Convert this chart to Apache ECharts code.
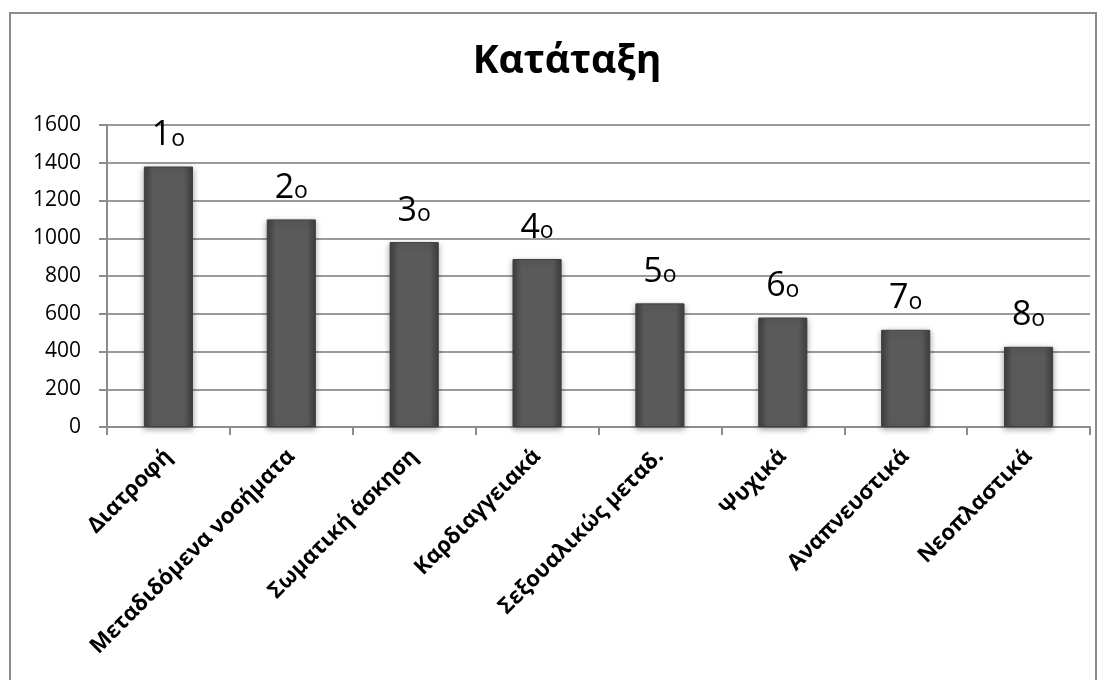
<!DOCTYPE html>
<html>
<head>
<meta charset="utf-8">
<title>Κατάταξη</title>
<script src="https://cdn.jsdelivr.net/npm/echarts@6/dist/echarts.min.js"></script>
<style>
  html, body { margin: 0; padding: 0; background: #fff; }
  #chart { width: 1106px; height: 680px; }
</style>
</head>
<body>
<div id="chart"></div>
<script>
// Ranking of health topics
const categories = ['Διατροφή', 'Μεταδιδόμενα νοσήματα', 'Σωματική άσκηση', 'Καρδιαγγειακά',
  'Σεξουαλικώς μεταδ.', 'Ψυχικά', 'Αναπνευστικά', 'Νεοπλαστικά'];
const values = [1380, 1100, 980, 890, 655, 580, 515, 425];
const ranks = ['1', '2', '3', '4', '5', '6', '7', '8'];
const yTicks = [0, 200, 400, 600, 800, 1000, 1200, 1400, 1600];

const chart = echarts.init(document.getElementById('chart'), null, { renderer: 'canvas' });

const barFill = new echarts.graphic.LinearGradient(0, 0, 1, 0, [
  { offset: 0, color: '#3e3e3e' },
  { offset: 0.18, color: '#5a5a5a' },
  { offset: 0.82, color: '#5a5a5a' },
  { offset: 1, color: '#3e3e3e' }
]);

chart.setOption({
  backgroundColor: '#ffffff',
  animation: false,
  graphic: [{
    type: 'rect',
    shape: { x: 10, y: 13, width: 1086, height: 700 },
    style: { fill: 'none', stroke: '#8c8c8c', lineWidth: 2 },
    silent: true
  }],
  title: {
    text: 'Κατάταξη',
    left: 562,
    top: 37,
    textAlign: 'center',
    textStyle: { fontFamily: 'Open Sans', fontWeight: 'bold', fontSize: 39, color: '#000' }
  },
  grid: { left: 107, right: 16, top: 125, bottom: 253, containLabel: false },
  xAxis: {
    type: 'category',
    data: categories,
    axisLine: { lineStyle: { color: '#8c8c8c', width: 2 } },
    axisTick: { show: true, length: 8, lineStyle: { color: '#8c8c8c', width: 2 } },
    axisLabel: {
      rotate: 45,
      margin: 26,
      interval: 0,
      fontFamily: 'Open Sans',
      fontWeight: 'bold',
      fontSize: 22,
      color: '#000'
    }
  },
  yAxis: {
    type: 'value',
    min: yTicks[0],
    max: yTicks[yTicks.length - 1],
    interval: yTicks[1] - yTicks[0],
    axisLine: { show: true, lineStyle: { color: '#8c8c8c', width: 2 } },
    axisTick: { show: true, inside: false, length: 8, lineStyle: { color: '#8c8c8c', width: 2 } },
    splitLine: { show: true, lineStyle: { color: '#9a9a9a', width: 2 } },
    axisLabel: {
      margin: 26,
      fontFamily: 'Open Sans',
      fontSize: 21,
      color: '#000',
      formatter: (v) => String(v)
    }
  },
  series: [{
    type: 'bar',
    data: values,
    barWidth: '40%',
    itemStyle: {
      color: barFill,
      borderColor: '#404040',
      borderWidth: 1,
      shadowColor: 'rgba(0,0,0,0.35)',
      shadowBlur: 6,
      shadowOffsetY: 2
    },
    label: {
      show: true,
      position: 'top',
      distance: 14,
      formatter: (p) => '{d|' + ranks[p.dataIndex] + '}{o|ο}',
      rich: {
        d: { fontFamily: 'Open Sans', fontSize: 34, color: '#000', lineHeight: 38, verticalAlign: 'bottom' },
        o: { fontFamily: 'Open Sans', fontSize: 23, color: '#000', lineHeight: 27, verticalAlign: 'bottom', padding: [0, 0, 2, 0] }
      }
    }
  }]
});
</script>
</body>
</html>
